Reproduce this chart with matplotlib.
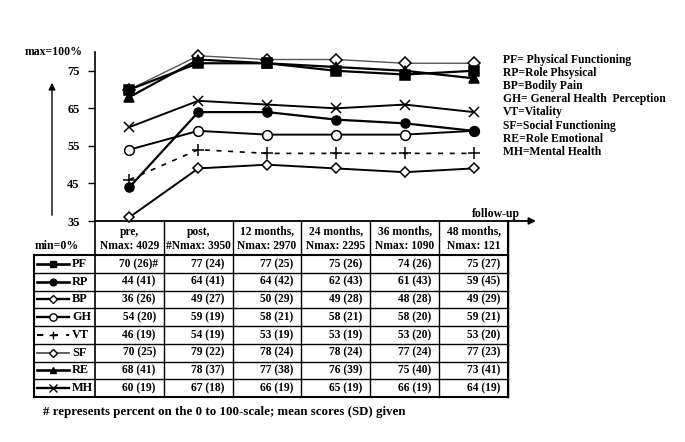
import matplotlib.pyplot as plt

plt.rcParams['font.family'] = 'Liberation Serif'
plt.rcParams['font.weight'] = 'bold'

# follow-up time points
periods = ['pre,\nNmax: 4029', 'post,\n#Nmax: 3950', '12 months,\nNmax: 2970',
           '24 months,\nNmax: 2295', '36 months,\nNmax: 1090', '48 months,\nNmax: 121']

scales = ['PF', 'RP', 'BP', 'GH', 'VT', 'SF', 'RE', 'MH']

pf = [70, 77, 77, 75, 74, 75]
rp = [44, 64, 64, 62, 61, 59]
bp = [36, 49, 50, 49, 48, 49]
gh = [54, 59, 58, 58, 58, 59]
vt = [46, 54, 53, 53, 53, 53]
sf = [70, 79, 78, 78, 77, 77]
re = [68, 78, 77, 76, 75, 73]
mh = [60, 67, 66, 65, 66, 64]

pf_sd = [26, 24, 25, 26, 26, 27]
rp_sd = [41, 41, 42, 43, 43, 45]
bp_sd = [26, 27, 29, 28, 28, 29]
gh_sd = [20, 19, 21, 21, 20, 21]
vt_sd = [19, 19, 19, 19, 20, 20]
sf_sd = [25, 22, 24, 24, 24, 23]
re_sd = [41, 37, 38, 39, 40, 41]
mh_sd = [19, 18, 19, 19, 19, 19]

legend_lines = ['PF= Physical Functioning', 'RP=Role Phsysical', 'BP=Bodily Pain',
                'GH= General Health  Perception', 'VT=Vitality', 'SF=Social Functioning',
                'RE=Role Emotional', 'MH=Mental Health']

means = [pf, rp, bp, gh, vt, sf, re, mh]
sds = [pf_sd, rp_sd, bp_sd, gh_sd, vt_sd, sf_sd, re_sd, mh_sd]

# line styles per scale: marker, size, fill, linestyle, color, width
styles = {
    'PF': dict(marker='s', ms=6.5, mfc='black', ls='-', color='black', lw=1.6),
    'RP': dict(marker='o', ms=6.5, mfc='black', ls='-', color='black', lw=1.6),
    'BP': dict(marker='D', ms=5, mfc='white', ls='-', color='black', lw=1.4),
    'GH': dict(marker='o', ms=7, mfc='white', ls='-', color='black', lw=1.4),
    'VT': dict(marker='+', ms=8, mfc='black', ls=(0, (3, 4)), color='black', lw=1.2),
    'SF': dict(marker='D', ms=6, mfc='white', ls='-', color='#555555', lw=1.0),
    'RE': dict(marker='^', ms=6.5, mfc='black', ls='-', color='black', lw=1.6),
    'MH': dict(marker='x', ms=7.5, mfc='black', ls='-', color='black', lw=1.4),
}

W, H = 685, 442
fig = plt.figure(figsize=(W / 100, H / 100), dpi=100)

# overlay in pixel coordinates for table, arrows and notes
ov = fig.add_axes([0, 0, 1, 1])
ov.set_xlim(0, W)
ov.set_ylim(H, 0)
ov.axis('off')

x0, x1 = 95, 508
y_top, y_base = 52, 221
ax = fig.add_axes([x0 / W, (H - y_base) / H, (x1 - x0) / W, (y_base - y_top) / H])
ax.patch.set_alpha(0)
ax.set_xlim(0, 6)
ax.set_ylim(35, 80)
for s in ['top', 'right', 'bottom']:
    ax.spines[s].set_visible(False)
ax.spines['left'].set_linewidth(1.2)
ax.set_xticks([])
ax.set_yticks([35, 45, 55, 65, 75])
ax.tick_params(axis='y', length=5, width=1, labelsize=9, pad=6)
for lab in ax.get_yticklabels():
    lab.set_fontweight('bold')

xs = [i + 0.5 for i in range(len(periods))]
order = ['BP', 'VT', 'GH', 'RP', 'MH', 'SF', 'RE', 'PF']
for name in order:
    st = styles[name]
    vals = means[scales.index(name)]
    ax.plot(xs, vals, marker=st['marker'], ms=st['ms'], mfc=st['mfc'], mec='black',
            mew=1.1, ls=st['ls'], color=st['color'], lw=st['lw'], clip_on=False)

# axes decoration
ov.text(54, 52, 'max=100%', ha='center', va='center', fontsize=8.5)
ov.annotate('', xy=(52, 80), xytext=(52, 218),
            arrowprops=dict(arrowstyle='-|>', color='black', lw=1, mutation_scale=10))
ov.annotate('', xy=(536, y_base), xytext=(x0, y_base),
            arrowprops=dict(arrowstyle='-|>', color='black', lw=1.3, mutation_scale=10,
                            shrinkA=0, shrinkB=0))
ov.text(496, 214, 'follow-up', ha='center', va='center', fontsize=8.5)

for i, line in enumerate(legend_lines):
    ov.text(503, 60 + i * 13.1, line, ha='left', va='center', fontsize=8.4)

# table
col_w = (x1 - x0) / 6
col_edges = [x0 + i * col_w for i in range(7)]
head_bot = 255
row_h = 17.75
rows_bot = head_bot + row_h * len(scales)
lab_x0 = 34

ov.plot([x0, x0], [y_base, rows_bot], color='black', lw=1.2)
for cx in col_edges[1:]:
    ov.plot([cx, cx], [y_base, rows_bot], color='black', lw=1)
ov.plot([col_edges[-1], col_edges[-1]], [y_base, rows_bot], color='black', lw=1.5)
ov.plot([lab_x0, lab_x0], [head_bot, rows_bot], color='black', lw=1.5)
for r in range(len(scales) + 1):
    yy = head_bot + r * row_h
    ov.plot([lab_x0, col_edges[-1]], [yy, yy], color='black',
            lw=1.5 if r in (0, len(scales)) else 1)

ov.text(57, 246, 'min=0%', ha='center', va='center', fontsize=8.5)
for i, p in enumerate(periods):
    ov.text((col_edges[i] + col_edges[i + 1]) / 2, 239, p, ha='center', va='center',
            fontsize=8.3, linespacing=1.3)

for r, name in enumerate(scales):
    yc = head_bot + (r + 0.5) * row_h
    st = styles[name]
    ov.plot([37, 69], [yc, yc], ls=st['ls'], color=st['color'], lw=st['lw'] + 0.3)
    ov.plot([53], [yc], marker=st['marker'], ms=st['ms'] * 0.75, mfc=st['mfc'],
            mec='black', mew=1, ls='none')
    ov.text(72, yc, name, ha='left', va='center', fontsize=8.8)
    for c in range(len(periods)):
        txt = '%d (%d)' % (means[r][c], sds[r][c])
        if r == 0 and c == 0:
            txt += '#'
        right = col_edges[c + 1] - (6 if (r == 0 and c == 0) else 8)
        ov.text(right, yc, txt, ha='right', va='center', fontsize=8.3)

ov.text(43, 412, '# represents percent on the 0 to 100-scale; mean scores (SD) given',
        ha='left', va='center', fontsize=9.3)

fig.savefig('out.png', dpi=100)
